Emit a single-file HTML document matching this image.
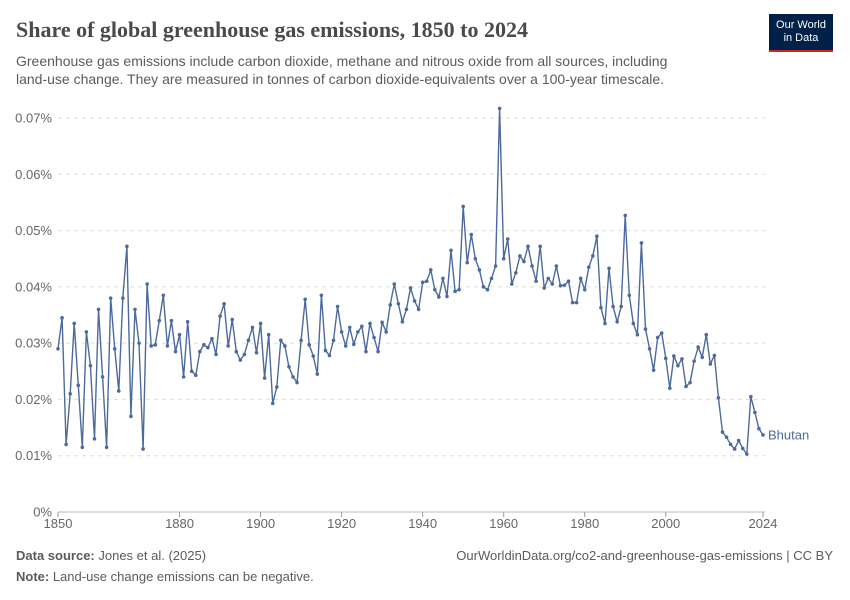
<!DOCTYPE html>
<html><head><meta charset="utf-8"><style>
body{margin:0;width:850px;height:600px;background:#fff;font-family:"Liberation Sans",sans-serif;overflow:hidden;position:relative}
.t{position:absolute;white-space:nowrap}
</style></head><body>
<div class="t" style="left:16px;top:17px;font-family:'Liberation Serif',serif;font-size:22px;font-weight:bold;color:#4a4a4a">Share of global greenhouse gas emissions, 1850 to 2024</div>
<div class="t" style="left:16px;top:52px;font-size:14px;line-height:18px;color:#5b5b5b">Greenhouse gas emissions include carbon dioxide, methane and nitrous oxide from all sources, including<br>land-use change. They are measured in tonnes of carbon dioxide-equivalents over a 100-year timescale.</div>
<div style="position:absolute;left:769px;top:14px;width:64px;height:38px;background:#002147;border-bottom:2px solid #ce261e;color:#fff;font-size:11px;line-height:13px;text-align:center;padding-top:5px;box-sizing:border-box">Our World<br>in Data</div>
<svg id="chart" width="850" height="600" style="position:absolute;left:0;top:0"></svg>
<div class="t" style="left:16px;top:548px;font-size:13px;color:#5b5b5b"><b>Data source:</b> Jones et al. (2025)</div>
<div class="t" style="right:17px;top:548px;font-size:13px;color:#5b5b5b">OurWorldinData.org/co2-and-greenhouse-gas-emissions | CC BY</div>
<div class="t" style="left:16px;top:569px;font-size:13px;color:#5b5b5b"><b>Note:</b> Land-use change emissions can be negative.</div>
<script>
const startYear = 1850;
const values = [2.9,3.45,1.2,2.1,3.35,2.25,1.15,3.2,2.6,1.3,3.6,2.4,1.15,3.8,2.9,2.15,3.8,4.72,1.7,3.6,3.0,1.12,4.05,2.95,2.97,3.4,3.85,2.95,3.4,2.85,
3.15,2.4,3.38,2.5,2.43,2.85,2.97,2.92,3.08,2.8,3.48,3.7,2.95,3.42,2.85,2.7,2.8,3.05,3.28,2.83,
3.35,2.38,3.15,1.93,2.22,3.05,2.95,2.58,2.4,2.3,3.05,3.78,2.97,2.77,2.45,3.85,2.87,2.78,3.05,3.65,
3.2,2.95,3.28,2.98,3.2,3.3,2.85,3.35,3.1,2.85,3.37,3.2,3.68,4.05,3.7,3.38,3.6,3.98,3.75,3.6,
4.08,4.1,4.3,3.95,3.82,4.15,3.83,4.65,3.92,3.95,5.43,4.43,4.93,4.5,4.3,4.0,3.95,4.15,4.37,7.17,
4.5,4.85,4.05,4.25,4.55,4.45,4.72,4.37,4.1,4.72,3.98,4.15,4.05,4.37,4.02,4.03,4.1,3.72,3.72,4.15,
3.95,4.35,4.55,4.9,3.63,3.35,4.33,3.65,3.38,3.65,5.27,3.85,3.35,3.15,4.78,3.25,2.9,2.52,3.1,3.18,
2.73,2.2,2.77,2.6,2.72,2.23,2.3,2.68,2.93,2.75,3.15,2.63,2.78,2.03,1.42,1.33,1.2,1.12,1.27,1.13,
1.03,2.05,1.77,1.48,1.37];
const yTicks = [0,1,2,3,4,5,6,7];
const xTicks = [1850,1880,1900,1920,1940,1960,1980,2000,2024];
const NS='http://www.w3.org/2000/svg';
const svg=document.getElementById('chart');
const x0=58,x1=763,y0=512,y1=118;
const xs=yr=>x0+(yr-1850)/(2024-1850)*(x1-x0);
const ys=v=>y0-v/7*(y0-y1);
function mk(tag,attrs){const e=document.createElementNS(NS,tag);for(const k in attrs)e.setAttribute(k,attrs[k]);svg.appendChild(e);return e;}
yTicks.forEach(v=>{
  const g=mk('line',{x1:x0,x2:765,y1:ys(v),y2:ys(v),stroke:v===0?'#bbb':'#ddd','stroke-dasharray':v===0?'':'4,4'});
  
  
  const t=mk('text',{x:52,y:ys(v)+4.5,'text-anchor':'end','font-size':13,fill:'#666','font-family':'Liberation Sans, sans-serif'});
  t.textContent=(v===0?'0':'0.0'+v)+'%';
  
  
});
xTicks.forEach(yr=>{
  const tk=mk('line',{x1:xs(yr),x2:xs(yr),y1:y0,y2:y0+5,stroke:'#999'});
  
  
  const t=mk('text',{x:xs(yr),y:528,'text-anchor':'middle','font-size':13,fill:'#666','font-family':'Liberation Sans, sans-serif'});
  t.textContent=yr;
  
  
});
const line=mk('polyline',{points:values.map((v,i)=>xs(startYear+i).toFixed(1)+','+ys(v).toFixed(1)).join(' '),fill:'none',stroke:'#4c6a9c','stroke-width':1.4});


values.forEach((v,i)=>{
  const c=mk('circle',{cx:xs(startYear+i),cy:ys(v),r:1.8,fill:'#4c6a9c'});
  
  
});
const lab=mk('text',{x:768,y:ys(values[values.length-1])+4.5,'font-size':13,fill:'#4c6a9c','font-family':'Liberation Sans, sans-serif'});
lab.textContent='Bhutan';


</script>
</body></html>
